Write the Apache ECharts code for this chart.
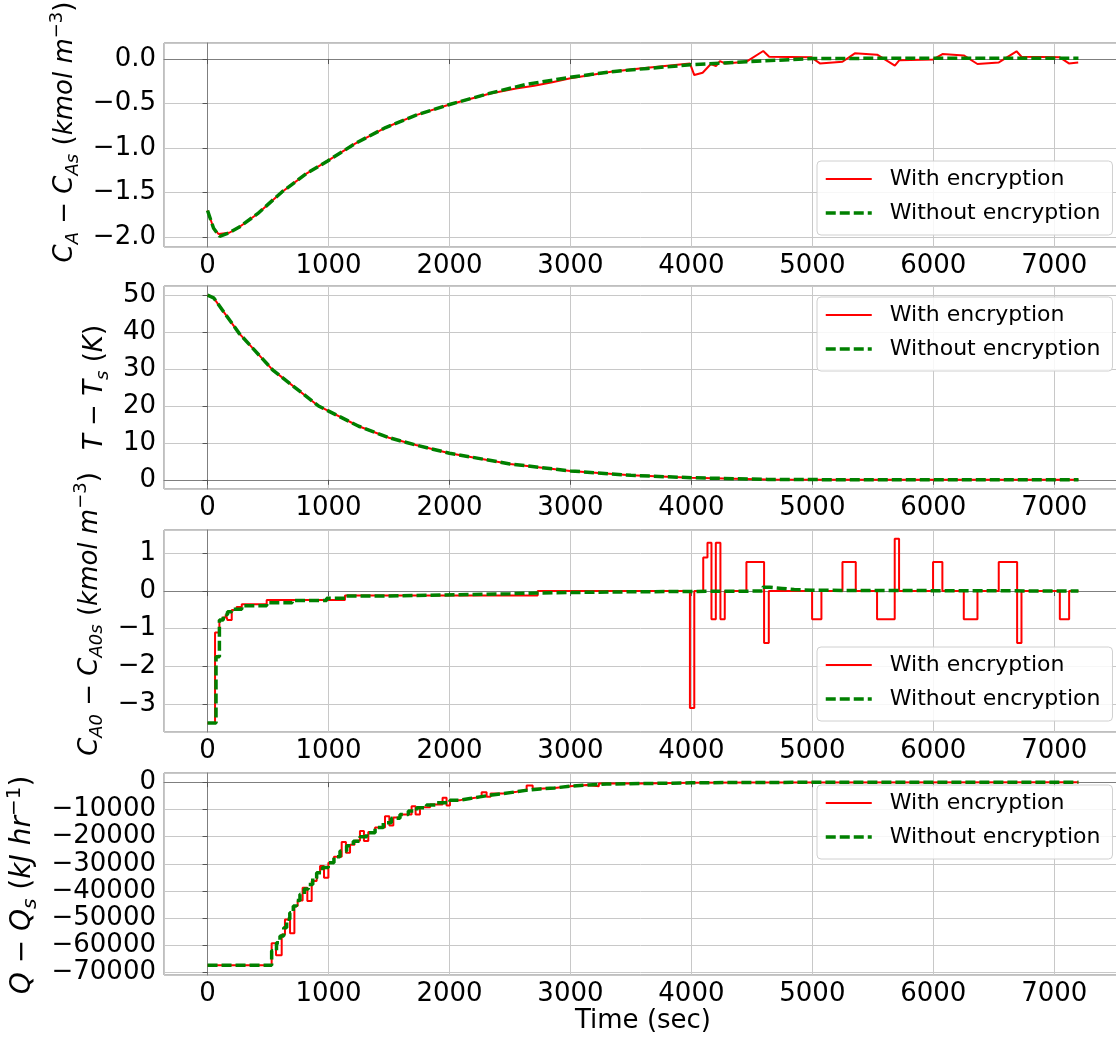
<!DOCTYPE html>
<html>
<head>
<meta charset="utf-8">
<script src="https://cdn.jsdelivr.net/npm/echarts@6/dist/echarts.min.js"></script>
<style>
  html, body { margin: 0; padding: 0; background: #ffffff; }
  #chart { width: 1116px; height: 1041px; }
</style>
</head>
<body>
<div id="chart"></div>
<script>
// ---- Data: reactor response, with and without encrypted control ----
const SERIES_NAMES = ['With encryption', 'Without encryption'];
const X_TICK_LABELS = ['0', '1000', '2000', '3000', '4000', '5000', '6000', '7000'];

// Panel 1: C_A - C_As (kmol m^-3)
const caTimeNoEnc = [0, 50, 100, 180, 263, 414, 615, 817, 993, 1220, 1472, 1724, 2001, 2329, 2631, 2994, 3337, 3639, 3992, 4456, 5000, 5500, 6000, 6500, 7200];
const caNoEnc     = [-1.70, -1.90, -1.99, -1.95, -1.886, -1.736, -1.492, -1.286, -1.144, -0.949, -0.769, -0.630, -0.510, -0.386, -0.285, -0.206, -0.142, -0.105, -0.065, -0.030, 0.005, 0.008, 0.008, 0.008, 0.008];
const caTimeEnc = [0, 50, 92, 180, 263, 414, 615, 817, 993, 1220, 1472, 1724, 2001, 2329, 2550, 2700, 2850, 3000, 3337, 3574, 3988, 4024, 4093, 4161, 4203, 4236, 4277, 4456, 4594, 4643, 4993, 5062, 5249, 5351, 5536, 5682, 5718, 5999, 6076, 6252, 6365, 6542, 6688, 6729, 7046, 7121, 7198];
const caEnc     = [-1.70, -1.90, -1.965, -1.95, -1.886, -1.736, -1.492, -1.286, -1.144, -0.949, -0.769, -0.630, -0.510, -0.39, -0.33, -0.30, -0.26, -0.215, -0.142, -0.105, -0.049, -0.180, -0.154, -0.056, -0.079, -0.023, -0.049, -0.030, 0.090, 0.026, 0.019, -0.049, -0.030, 0.064, 0.049, -0.075, -0.015, -0.004, 0.056, 0.041, -0.056, -0.038, 0.087, 0.026, 0.019, -0.049, -0.038];

// Panel 2: T - T_s (K)
const tTime  = [0, 50, 263, 540, 917, 1250, 1500, 1723, 2000, 2500, 3000, 3500, 4000, 4632, 5200, 6000, 7200];
const tNoEnc = [50, 49.3, 39.6, 29.7, 20.0, 14.5, 11.4, 9.4, 7.2, 4.3, 2.4, 1.2, 0.55, 0.1, 0.02, 0, 0];
const tEnc   = [50, 49.3, 39.6, 29.7, 20.0, 14.5, 11.4, 9.4, 7.2, 4.3, 2.4, 1.2, 0.55, 0.1, 0.02, 0, 0];

// Panel 3: C_A0 - C_A0s (kmol m^-3), held between control updates
const ca0TimeNoEnc = [0, 70, 98, 130, 165, 200, 283, 489, 700, 985, 1136, 1500, 1811, 2200, 2500, 2729, 3500, 4000, 4590, 4650, 4750, 4850, 5000, 7200];
const ca0NoEnc     = [-3.5, -1.74, -0.77, -0.63, -0.55, -0.48, -0.39, -0.31, -0.25, -0.19, -0.13, -0.11, -0.09, -0.07, -0.05, -0.02, -0.01, 0, 0.10, 0.07, 0.04, 0.02, 0, 0];
const ca0TimeEnc = [0, 62, 98, 125, 150, 165, 200, 240, 283, 489, 1136, 2729, 3988, 4024, 4098, 4133, 4166, 4202, 4240, 4276, 4455, 4601, 4640, 4998, 5075, 5249, 5359, 5535, 5681, 5717, 5998, 6075, 6252, 6365, 6541, 6693, 6729, 7046, 7123, 7200];
const ca0Enc     = [-3.5, -1.10, -0.77, -0.70, -0.62, -0.77, -0.50, -0.42, -0.35, -0.24, -0.12, 0.0, -3.1, 0, 0.89, 1.28, -0.75, 1.28, -0.75, 0, 0.77, -1.38, 0, -0.75, 0, 0.77, 0, -0.75, 1.39, 0, 0.77, 0, -0.75, 0, 0.77, -1.38, 0, -0.75, 0, 0];

// Panel 4: Q - Q_s (kJ hr^-1), held between control updates
const qTimeNoEnc = [0, 530, 570, 599, 630, 654, 680, 709, 735, 764, 800, 833, 870, 902, 950, 998, 1045, 1095, 1150, 1205, 1260, 1315, 1385, 1453, 1520, 1591, 1660, 1729, 1810, 1894, 2004, 2090, 2170, 2250, 2335, 2450, 2556, 2650, 2748, 2870, 2996, 3150, 3300, 3600, 4000, 4500, 7200];
const qNoEnc     = [-67300, -62000, -59000, -56500, -53500, -50400, -48000, -45500, -43500, -41200, -39300, -37600, -35300, -33300, -31400, -29600, -27400, -25300, -23400, -21700, -20100, -18600, -16700, -14900, -13300, -11900, -10600, -9400, -8400, -7600, -6600, -6000, -5400, -4800, -4200, -3500, -2900, -2500, -2100, -1500, -1000, -700, -500, -250, -80, 0, 0];
const qTimeEnc = [0, 530, 566, 613, 640, 682, 718, 745, 786, 825, 861, 902, 930, 963, 999, 1045, 1109, 1144, 1178, 1215, 1260, 1293, 1329, 1385, 1467, 1503, 1536, 1591, 1687, 1720, 1756, 1840, 1943, 1976, 2004, 2090, 2170, 2266, 2307, 2340, 2450, 2556, 2638, 2688, 2734, 2870, 2996, 3135, 3235, 3600, 4000, 4500, 7200];
const qEnc     = [-67300, -59240, -63650, -56000, -50430, -55570, -45500, -43500, -38800, -43700, -36300, -33300, -30840, -35130, -29600, -27400, -22030, -25950, -23000, -21500, -17990, -21660, -18300, -16700, -12480, -15910, -13000, -11900, -8810, -11870, -9200, -8200, -5750, -8570, -6600, -6000, -5400, -3670, -5390, -4200, -3500, -2900, -1220, -2450, -2100, -1500, -1000, -1500, -500, -250, -80, 0, 0];

// ---- Layout ----
const FONT = 'DejaVu Sans';
const PLOT_LEFT = 164, PLOT_WIDTH = 958;
const X_MIN = -360, X_MAX = 7560;
const panels = [
  { top: 43,  height: 204, min: -2.11,  max: 0.18,  interval: 0.5,   dec: 1, legendTop: 161, nameGap: 80,  namePad: [0, 0, 0, 26], nameSize: 26,
    name: '{i|C}{sub|A}{n| − }{i|C}{sub|As}{n| (}{i|kmol}{n| }{i|m}{sup|−3}{n|)}',
    enc: [caTimeEnc, caEnc], noEnc: [caTimeNoEnc, caNoEnc], stepped: false },
  { top: 286, height: 203, min: -2.5,   max: 52.5,  interval: 10,    dec: 0, legendTop: 297, nameGap: 49,  namePad: [0, 0, 0, 0], nameSize: 26,
    name: '{i|T}{n| − }{i|T}{sub|s}{n| (}{i|K}{n|)}',
    enc: [tTime, tEnc], noEnc: [tTime, tNoEnc], stepped: false },
  { top: 530, height: 202, min: -3.74,  max: 1.62,  interval: 1,     dec: 0, legendTop: 647, nameGap: 52,  namePad: [0, 0, 0, 34], nameSize: 26,
    name: '{i|C}{sub|A0}{n| − }{i|C}{sub|A0s}{n| (}{i|kmol}{n| }{i|m}{sup|−3}{n|)}',
    enc: [ca0TimeEnc, ca0Enc], noEnc: [ca0TimeNoEnc, ca0NoEnc], stepped: true },
  { top: 773, height: 202, min: -70875, max: 3375,  interval: 10000, dec: 0, legendTop: 785, nameGap: 120, namePad: [0, 22, 0, 0], nameSize: 28,
    name: '{i|Q}{n| − }{i|Q}{sub|s}{n| (}{i|kJ}{n| }{i|hr}{sup|−1}{n|)}',
    enc: [qTimeEnc, qEnc], noEnc: [qTimeNoEnc, qNoEnc], stepped: true }
];

const zip = (xs, ys) => xs.map((x, i) => [x, ys[i]]);
const fmt = (v, dec) => {
  const s = Math.abs(v).toFixed(dec);
  return (v < 0 && Number(s) !== 0 ? '\u2212' : '') + s;
};

// Rich-text styles for the mathematical axis titles
const nameRich = size => {
  const small = Math.round(size * 0.7);
  return {
    n:   { fontFamily: FONT, fontSize: size, lineHeight: size + 8, color: '#000' },
    i:   { fontFamily: FONT, fontSize: size, lineHeight: size + 8, fontStyle: 'italic', color: '#000' },
    sub: { fontFamily: FONT, fontSize: small, lineHeight: small, fontStyle: 'italic', verticalAlign: 'bottom', color: '#000' },
    sup: { fontFamily: FONT, fontSize: small, lineHeight: small, verticalAlign: 'top', color: '#000' }
  };
};

const grid = [], xAxis = [], yAxis = [], series = [], legend = [];
panels.forEach((p, k) => {
  grid.push({
    left: PLOT_LEFT, width: PLOT_WIDTH, top: p.top, height: p.height,
    outerBoundsMode: 'none', containLabel: false,
    show: true, borderColor: '#7f7f7f', borderWidth: 1, backgroundColor: '#fff'
  });
  xAxis.push({
    type: 'value', gridIndex: k, min: X_MIN, max: X_MAX,
    minInterval: 1000, maxInterval: 1000,
    name: k === 3 ? 'Time (sec)' : '', nameLocation: 'middle', nameGap: 30,
    nameTextStyle: { fontFamily: FONT, fontSize: 26, color: '#000' },
    axisLine: { show: true, lineStyle: { color: '#7f7f7f', width: 1 } },
    axisTick: { show: true, length: 5, lineStyle: { color: '#555' } },
    axisLabel: {
      fontFamily: FONT, fontSize: 26, color: '#000', margin: 6,
      showMinLabel: false, showMaxLabel: false,
      formatter: v => X_TICK_LABELS[Math.round(v / 1000)] ?? fmt(v, 0)
    },
    splitLine: { show: true, lineStyle: { color: '#c8c8c8', width: 1 } }
  });
  yAxis.push({
    type: 'value', gridIndex: k, min: p.min, max: p.max,
    minInterval: p.interval, maxInterval: p.interval,
    name: p.name, nameLocation: 'middle', nameGap: p.nameGap, nameRotate: 90,
    nameTextStyle: { rich: nameRich(p.nameSize), padding: p.namePad },
    axisLine: { show: true, lineStyle: { color: '#7f7f7f', width: 1 } },
    axisTick: { show: true, length: 5, lineStyle: { color: '#555' } },
    axisLabel: {
      fontFamily: FONT, fontSize: 26, color: '#000', margin: 8,
      showMinLabel: false, showMaxLabel: false,
      formatter: v => fmt(v, p.dec)
    },
    splitLine: { show: true, lineStyle: { color: '#c8c8c8', width: 1 } }
  });
  series.push({
    name: SERIES_NAMES[0], type: 'line', xAxisIndex: k, yAxisIndex: k,
    data: zip(p.enc[0], p.enc[1]), step: p.stepped ? 'end' : false,
    symbol: 'none', showSymbol: false, z: 2,
    lineStyle: { color: '#ff0000', width: 2 }, itemStyle: { color: '#ff0000' }
  });
  series.push({
    name: SERIES_NAMES[1], type: 'line', xAxisIndex: k, yAxisIndex: k,
    data: zip(p.noEnc[0], p.noEnc[1]), step: p.stepped ? 'end' : false,
    symbol: 'none', showSymbol: false, z: 3,
    lineStyle: { color: '#008000', width: 3.5, type: [10, 4] }, itemStyle: { color: '#008000' }
  });
  legend.push({
    data: SERIES_NAMES, orient: 'vertical', left: 817, top: p.legendTop,
    padding: [6, 12, 10, 7], itemGap: 10, itemWidth: 46, itemHeight: 14,
    backgroundColor: 'rgba(255,255,255,0.85)', borderColor: '#d0d0d0', borderWidth: 1, borderRadius: 4,
    lineStyle: { width: 'inherit' },
    itemStyle: { opacity: 0, color: 'rgba(0,0,0,0)', borderWidth: 0 },
    textStyle: { fontFamily: FONT, fontSize: 22, lineHeight: 24, color: '#000', padding: [0, 0, 0, 13] },
    selectedMode: false
  });
});

const chart = echarts.init(document.getElementById('chart'), null, { renderer: 'canvas' });
chart.setOption({
  animation: false,
  backgroundColor: '#ffffff',
  grid, xAxis, yAxis, series, legend
});
</script>
</body>
</html>
